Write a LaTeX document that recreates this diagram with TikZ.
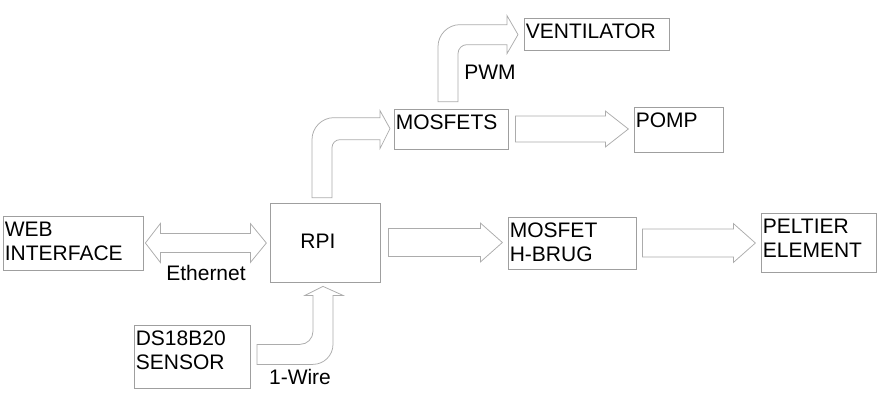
\documentclass[tikz,border=0pt]{standalone}
\usepackage{fontspec}
\setmainfont{Liberation Sans}
\usetikzlibrary{calc}

\begin{document}
\begin{tikzpicture}[x=1pt,y=-1pt,
        box/.style={draw=gray!75,line width=0.75pt,minimum width=#1},
        txt/.style={anchor=north west,align=left,inner xsep=2pt,inner ysep=6.5pt,font=\fontsize{21}{24}\selectfont},
        lbl/.style={font=\fontsize{21}{24}\selectfont,inner sep=0pt},
        blk/.style={draw=gray!65,fill=white,line width=0.75pt,line join=miter},]
        \useasboundingbox (0,0) rectangle (887,402);
        \node[box=140,minimum height=54] (web) at (73,243) {};
        \node[box=110,minimum height=79] (rpi) at (325,242.5) {};
        \node[box=116,minimum height=63] (ds) at (192,356.5) {};
        \node[box=114,minimum height=40] (mos) at (451,129) {};
        \node[box=145,minimum height=32] (vent) at (596.5,34) {};
        \node[box=89,minimum height=45] (pomp) at (678.5,129.5) {};
        \node[box=128,minimum height=52] (hbrug) at (572,243) {};
        \node[box=115,minimum height=59] (pelt) at (818.5,242.5) {};
        \node[txt] (webt) at (web.north west) {WEB\\INTERFACE};
        \node[txt] (dst) at (ds.north west) {DS18B20\\SENSOR};
        \node[txt] (most) at (mos.north west) {MOSFETS};
        \node[txt] (ventt) at (vent.north west) {VENTILATOR};
        \node[txt] (pompt) at (pomp.north west) {POMP};
        \node[txt] (hbrugt) at (hbrug.north west) {MOSFET\\H-BRUG};
        \node[txt] (peltt) at (pelt.north west) {PELTIER\\ELEMENT};
        \node[lbl] (rpit) at (318,241.5) {RPI};
        \draw[blk,shift={(web.east)}] (2,0)--(17,-19.5)--(17,-9.5)--(107,-9.5)--(107,-19.5)--(123,0)--(107,19.5)--(107,9.5)--(17,9.5)--(17,19.5)--cycle;
        \draw[blk,shift={(rpi.east)}] (8,-14)--(100,-14)--(100,-19.5)--(122,0)--(100,19.5)--(100,14)--(8,14)--cycle;
        \draw[blk,shift={(hbrug.east)}] (6,-14)--(97,-14)--(97,-19.5)--(119,0)--(97,19.5)--(97,14)--(6,14)--cycle;
        \draw[blk,shift={(mos.east)}] (7,-13)--(97,-13)--(97,-18)--(120,0)--(97,18)--(97,13)--(7,13)--cycle;
        \draw[blk,shift={(rpi.north)}] (-13,-5)--(-13,-63) .. controls (-13,-75.1) and (-3.1,-85) .. (9,-85)--(55,-85)--(55,-92)--(65,-74)--(55,-54)--(55,-63)--(15,-63) .. controls (10.6,-63) and (7,-59.4) .. (7,-55)--(7,-5)--cycle;
        \draw[blk,shift={(mos.north)}] (-13,-7)--(-13,-62) .. controls (-13,-74.1) and (-3.1,-84) .. (9,-84)--(56,-84)--(56,-93)--(67,-74)--(56,-55)--(56,-64)--(16,-64) .. controls (11,-64) and (7,-60) .. (7,-55)--(7,-7)--cycle;
        \draw[blk,shift={(rpi.south)}] (-68,62)--(-25,62) .. controls (-17.8,62) and (-12,56.2) .. (-12,49)--(-12,13)--(-20,13)--(-2,4)--(18,13)--(8,13)--(8,62) .. controls (8,73) and (-1,82) .. (-12,82)--(-68,82)--cycle;
        \node[lbl] (eth) at (206,273) {Ethernet};
        \node[lbl] (wire) at (300,376.5) {1-Wire};
        \node[lbl] (pwm) at (490,72.5) {PWM};
    \end{tikzpicture}
\end{document}
